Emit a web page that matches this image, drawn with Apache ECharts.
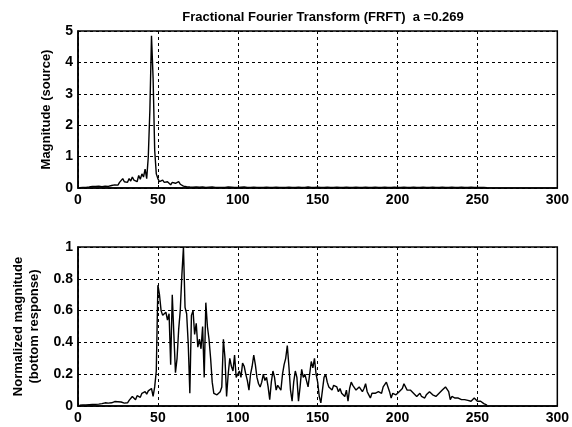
<!DOCTYPE html>
<html>
<head>
<meta charset="utf-8">
<script src="https://cdn.jsdelivr.net/npm/echarts@6/dist/echarts.min.js"></script>
<style>html,body{margin:0;padding:0;background:#fff}#c{width:572px;height:427px}</style>
</head>
<body>
<div id="c"></div>
<script>
var titleText = 'Fractional Fourier Transform (FRFT)  a =0.269';
var topYName = 'Magnitude (source)';
var bottomYName = 'Normalized magnitude\n(bottom response)';
var xTicks = [0, 50, 100, 150, 200, 250, 300];
var topYTicks = [0, 1, 2, 3, 4, 5];
var bottomYTicks = [0, 0.2, 0.4, 0.6, 0.8, 1];

// sample index 1..256
var sourceMag = [
0.010,0.010,0.015,0.020,0.020,0.025,0.030,0.040,0.050,0.040,
0.050,0.040,0.060,0.050,0.040,0.050,0.060,0.040,0.050,0.070,
0.080,0.060,0.100,0.120,0.090,0.180,0.120,0.300,0.200,0.250,
0.180,0.300,0.220,0.350,0.250,0.300,0.200,0.400,0.280,0.450,
0.350,0.600,0.300,1.000,2.500,4.850,3.500,1.200,0.450,0.300,
0.200,0.150,0.250,0.180,0.120,0.200,0.150,0.100,0.180,0.120,
0.150,0.100,0.200,0.120,0.080,0.060,0.050,0.040,0.030,0.030,
0.030,0.025,0.020,0.030,0.020,0.025,0.020,0.030,0.025,0.020,
0.020,0.025,0.020,0.030,0.020,0.020,0.025,0.020,0.030,0.020,
0.025,0.020,0.020,0.030,0.020,0.025,0.020,0.020,0.025,0.020,
0.020,0.025,0.020,0.030,0.020,0.020,0.025,0.020,0.020,0.025,
0.020,0.020,0.025,0.020,0.030,0.020,0.020,0.025,0.020,0.020,
0.025,0.020,0.020,0.025,0.020,0.020,0.030,0.020,0.025,0.020,
0.020,0.025,0.020,0.020,0.025,0.020,0.020,0.025,0.020,0.020,
0.025,0.020,0.020,0.030,0.020,0.020,0.025,0.020,0.020,0.025,
0.020,0.020,0.025,0.020,0.020,0.025,0.020,0.020,0.025,0.020,
0.020,0.025,0.020,0.020,0.025,0.020,0.020,0.025,0.020,0.020,
0.025,0.020,0.020,0.025,0.020,0.020,0.025,0.020,0.020,0.025,
0.020,0.020,0.025,0.020,0.020,0.025,0.020,0.020,0.025,0.020,
0.020,0.025,0.020,0.020,0.025,0.020,0.020,0.025,0.020,0.020,
0.025,0.020,0.020,0.025,0.020,0.020,0.025,0.020,0.020,0.025,
0.020,0.020,0.025,0.020,0.020,0.025,0.020,0.020,0.025,0.020,
0.020,0.025,0.020,0.020,0.025,0.020,0.020,0.025,0.020,0.020,
0.025,0.020,0.020,0.025,0.020,0.020,0.025,0.020,0.020,0.025,
0.020,0.020,0.025,0.020,0.020,0.025,0.020,0.020,0.025,0.020,
0.020,0.020,0.015,0.015,0.010,0.010
];

var responseMag = [
0.005,0.005,0.006,0.006,0.007,0.007,0.008,0.008,0.009,0.010,
0.010,0.011,0.012,0.013,0.015,0.018,0.020,0.022,0.018,0.016,
0.020,0.025,0.028,0.030,0.027,0.028,0.025,0.022,0.018,0.012,
0.020,0.035,0.045,0.060,0.050,0.040,0.065,0.070,0.055,0.080,
0.070,0.090,0.075,0.095,0.085,0.110,0.060,0.120,0.220,0.760,
0.700,0.600,0.570,0.560,0.590,0.540,0.580,0.260,0.700,0.450,
0.210,0.300,0.480,0.600,0.820,1.000,0.620,0.580,0.390,0.080,
0.570,0.600,0.450,0.520,0.370,0.420,0.360,0.500,0.180,0.650,
0.500,0.420,0.300,0.150,0.080,0.090,0.070,0.080,0.090,0.120,
0.420,0.300,0.060,0.200,0.300,0.250,0.220,0.320,0.180,0.200,
0.220,0.180,0.270,0.250,0.200,0.160,0.100,0.200,0.250,0.320,
0.260,0.180,0.140,0.120,0.150,0.200,0.160,0.180,0.120,0.040,
0.150,0.220,0.180,0.100,0.130,0.130,0.100,0.200,0.260,0.300,
0.380,0.250,0.100,0.030,0.150,0.220,0.180,0.030,0.120,0.230,
0.180,0.200,0.160,0.120,0.200,0.280,0.240,0.300,0.200,0.150,
0.060,0.020,0.100,0.180,0.200,0.150,0.120,0.120,0.100,0.130,
0.140,0.120,0.090,0.110,0.080,0.080,0.060,0.100,0.030,0.110,
0.150,0.130,0.120,0.100,0.110,0.120,0.120,0.090,0.110,0.140,
0.090,0.070,0.050,0.080,0.090,0.080,0.070,0.090,0.100,0.080,
0.120,0.130,0.150,0.120,0.090,0.050,0.080,0.090,0.070,0.080,
0.090,0.080,0.110,0.140,0.130,0.100,0.090,0.100,0.090,0.080,
0.070,0.060,0.070,0.080,0.060,0.050,0.050,0.070,0.080,0.090,
0.090,0.070,0.060,0.060,0.060,0.080,0.090,0.100,0.100,0.120,
0.120,0.090,0.040,0.060,0.050,0.050,0.050,0.050,0.045,0.040,
0.040,0.040,0.035,0.035,0.035,0.030,0.040,0.050,0.055,0.030,
0.030,0.030,0.025,0.015,0.008,0.005
];

function pairs(arr){ return arr.map(function(v,i){ return [i+1, v]; }); }

var FONT = '"Liberation Sans", Arial, sans-serif';
var labelStyle = { color:'#000', fontFamily:FONT, fontWeight:'bold', fontSize:14, margin:5 };
var splitStyle = { show:true, lineStyle:{ color:'#000', type:[3,3], width:1 } };

function xAxis(gi){
  return {
    type:'value', gridIndex:gi, min:xTicks[0], max:xTicks[xTicks.length-1],
    interval:xTicks[1]-xTicks[0],
    axisLine:{ show:true, onZero:false, lineStyle:{ color:'#000', width:1.5 } },
    axisTick:{ show:true, inside:true, length:3, lineStyle:{color:'#000'} },
    axisLabel: labelStyle,
    splitLine: splitStyle
  };
}
function yAxis(gi, ticks, name, gap, fmt){
  return {
    type:'value', gridIndex:gi, min:ticks[0], max:ticks[ticks.length-1],
    interval:ticks[1]-ticks[0],
    name:name, nameLocation:'middle', nameGap:gap,
    nameTextStyle:{ color:'#000', fontFamily:FONT, fontWeight:'bold', fontSize:13, lineHeight:16 },
    axisLine:{ show:true, lineStyle:{ color:'#000', width:1.5 } },
    axisTick:{ show:true, inside:true, length:3, lineStyle:{color:'#000'} },
    axisLabel: Object.assign({}, labelStyle, { formatter: fmt }),
    splitLine: splitStyle
  };
}

var chart = echarts.init(document.getElementById('c'), null, { renderer:'canvas' });
chart.setOption({
  backgroundColor:'#fff',
  animation:false,
  title:{ text:titleText, left:318, top:6, textAlign:'center',
    textStyle:{ color:'#000', fontFamily:FONT, fontWeight:'bold', fontSize:13 } },
  grid:[
    { left:78, top:31, width:480, height:157, show:true, borderColor:'#000', borderWidth:1.5, backgroundColor:'transparent' },
    { left:78, top:247, width:480, height:159, show:true, borderColor:'#000', borderWidth:1.5, backgroundColor:'transparent' }
  ],
  xAxis:[ xAxis(0), xAxis(1) ],
  yAxis:[
    yAxis(0, topYTicks, topYName, 24, function(v){ return String(v); }),
    yAxis(1, bottomYTicks, bottomYName, 36, function(v){ return String(+v.toFixed(1)); })
  ],
  series:[
    { type:'line', xAxisIndex:0, yAxisIndex:0, data:pairs(sourceMag), showSymbol:false,
      lineStyle:{ color:'#000', width:1.4 }, silent:true },
    { type:'line', xAxisIndex:1, yAxisIndex:1, data:pairs(responseMag), showSymbol:false,
      lineStyle:{ color:'#000', width:1.4 }, silent:true }
  ]
});
</script>
</body>
</html>
